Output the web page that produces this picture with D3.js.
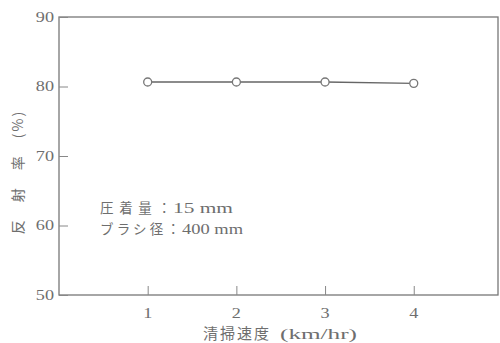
<!DOCTYPE html>
<html>
<head>
<meta charset="utf-8">
<script src="https://cdn.jsdelivr.net/npm/d3@7"></script>
<style>
  body { margin: 0; background: #fff; }
  svg text { fill: #6e6e6e; }
</style>
</head>
<body>
<svg id="chart" width="500" height="343"></svg>
<script>
// values
var speeds = [1, 2, 3, 4];
var reflect = [80.65, 80.65, 80.65, 80.45];
var yTicks = [50, 60, 70, 80, 90];
var xTicks = [1, 2, 3, 4];
var noteKeys = ["圧着量：", "ブラシ径："];
var noteVals = ["15 mm", "400 mm"];

// plot box ("top" is taken on window, so plot* names)
var plotL = 59, plotR = 498, plotT = 17, plotB = 295;
var jp = "'Noto Sans CJK JP', sans-serif";
var serif = "'Liberation Serif', 'DejaVu Serif', serif";

var svg = d3.select("#chart");

var x = d3.scaleLinear().domain([0, 4.95]).range([plotL, plotR]);
var y = d3.scaleLinear().domain([50, 90]).range([plotB, plotT]);

// frame
svg.append("rect")
    .attr("x", plotL).attr("y", plotT)
    .attr("width", plotR - plotL).attr("height", plotB - plotT)
    .attr("fill", "none").attr("stroke", "#777").attr("stroke-width", 1.3);

// y axis, ticks pointing inward
var gy = svg.append("g").attr("transform", "translate(" + plotL + ",0)")
    .call(d3.axisRight(y).tickValues(yTicks).tickSize(9).tickFormat(""));
gy.select(".domain").remove();
gy.selectAll("line").attr("stroke", "#888");

// the scan is stretched sideways, so numbers get a horizontal scale
svg.selectAll(".ylab").data(yTicks).enter().append("text")
    .attr("class", "ylab")
    .attr("transform", function(d) { return "translate(" + (plotL - 5) + "," + (y(d) + 4.5) + ") scale(1.3,1)"; })
    .attr("text-anchor", "end")
    .style("font-family", serif).style("font-size", "14px")
    .text(function(d) { return d; });

// x axis, ticks pointing up
var gx = svg.append("g").attr("transform", "translate(0," + plotB + ")")
    .call(d3.axisTop(x).tickValues(xTicks).tickSize(9).tickFormat(""));
gx.select(".domain").remove();
gx.selectAll("line").attr("stroke", "#888");

svg.selectAll(".xlab").data(xTicks).enter().append("text")
    .attr("class", "xlab")
    .attr("transform", function(d) { return "translate(" + x(d) + "," + (plotB + 23) + ") scale(1.3,1)"; })
    .attr("text-anchor", "middle")
    .style("font-family", serif).style("font-size", "14px")
    .text(function(d) { return d; });

// x title
svg.append("text")
    .attr("x", 203).attr("y", 339)
    .attr("textLength", 66).attr("lengthAdjust", "spacing")
    .style("font-family", jp).style("font-size", "15px")
    .text("清掃速度");
svg.append("text")
    .attr("x", 280).attr("y", 339)
    .attr("textLength", 77).attr("lengthAdjust", "spacingAndGlyphs")
    .style("font-family", serif).style("font-size", "15px")
    .text("(km/hr)");

// y title, reads bottom to top
svg.append("text")
    .attr("transform", "translate(23,172) rotate(-90)")
    .attr("text-anchor", "middle")
    .style("font-family", jp).style("font-size", "14px")
    .style("letter-spacing", "2px")
    .text("反\u3000射\u3000率\u3000(%)");

// notes
svg.selectAll(".nkey").data(noteKeys).enter().append("text")
    .attr("class", "nkey")
    .attr("x", 100).attr("y", function(d, i) { return 213 + i * 21; })
    .attr("textLength", function(d, i) { return i ? 80 : 71; })
    .attr("lengthAdjust", "spacing")
    .style("font-family", jp).style("font-size", "13.5px")
    .text(function(d) { return d; });

svg.selectAll(".nval").data(noteVals).enter().append("text")
    .attr("class", "nval")
    .attr("x", function(d, i) { return i ? 182 : 173; })
    .attr("y", function(d, i) { return 213 + i * 21; })
    .attr("textLength", function(d, i) { return i ? 61 : 60; })
    .attr("lengthAdjust", "spacingAndGlyphs")
    .style("font-family", serif).style("font-size", "14px")
    .text(function(d) { return d; });

// series
var pts = speeds.map(function(s, i) { return [s, reflect[i]]; });
var line = d3.line().x(function(d) { return x(d[0]); }).y(function(d) { return y(d[1]); });

svg.append("path").datum(pts)
    .attr("d", line)
    .attr("fill", "none").attr("stroke", "#666").attr("stroke-width", 1.4);

svg.selectAll(".pt").data(pts).enter().append("circle")
    .attr("class", "pt")
    .attr("cx", function(d) { return x(d[0]); })
    .attr("cy", function(d) { return y(d[1]); })
    .attr("r", 4)
    .attr("fill", "#fff").attr("stroke", "#777").attr("stroke-width", 1.3);
</script>
</body>
</html>
